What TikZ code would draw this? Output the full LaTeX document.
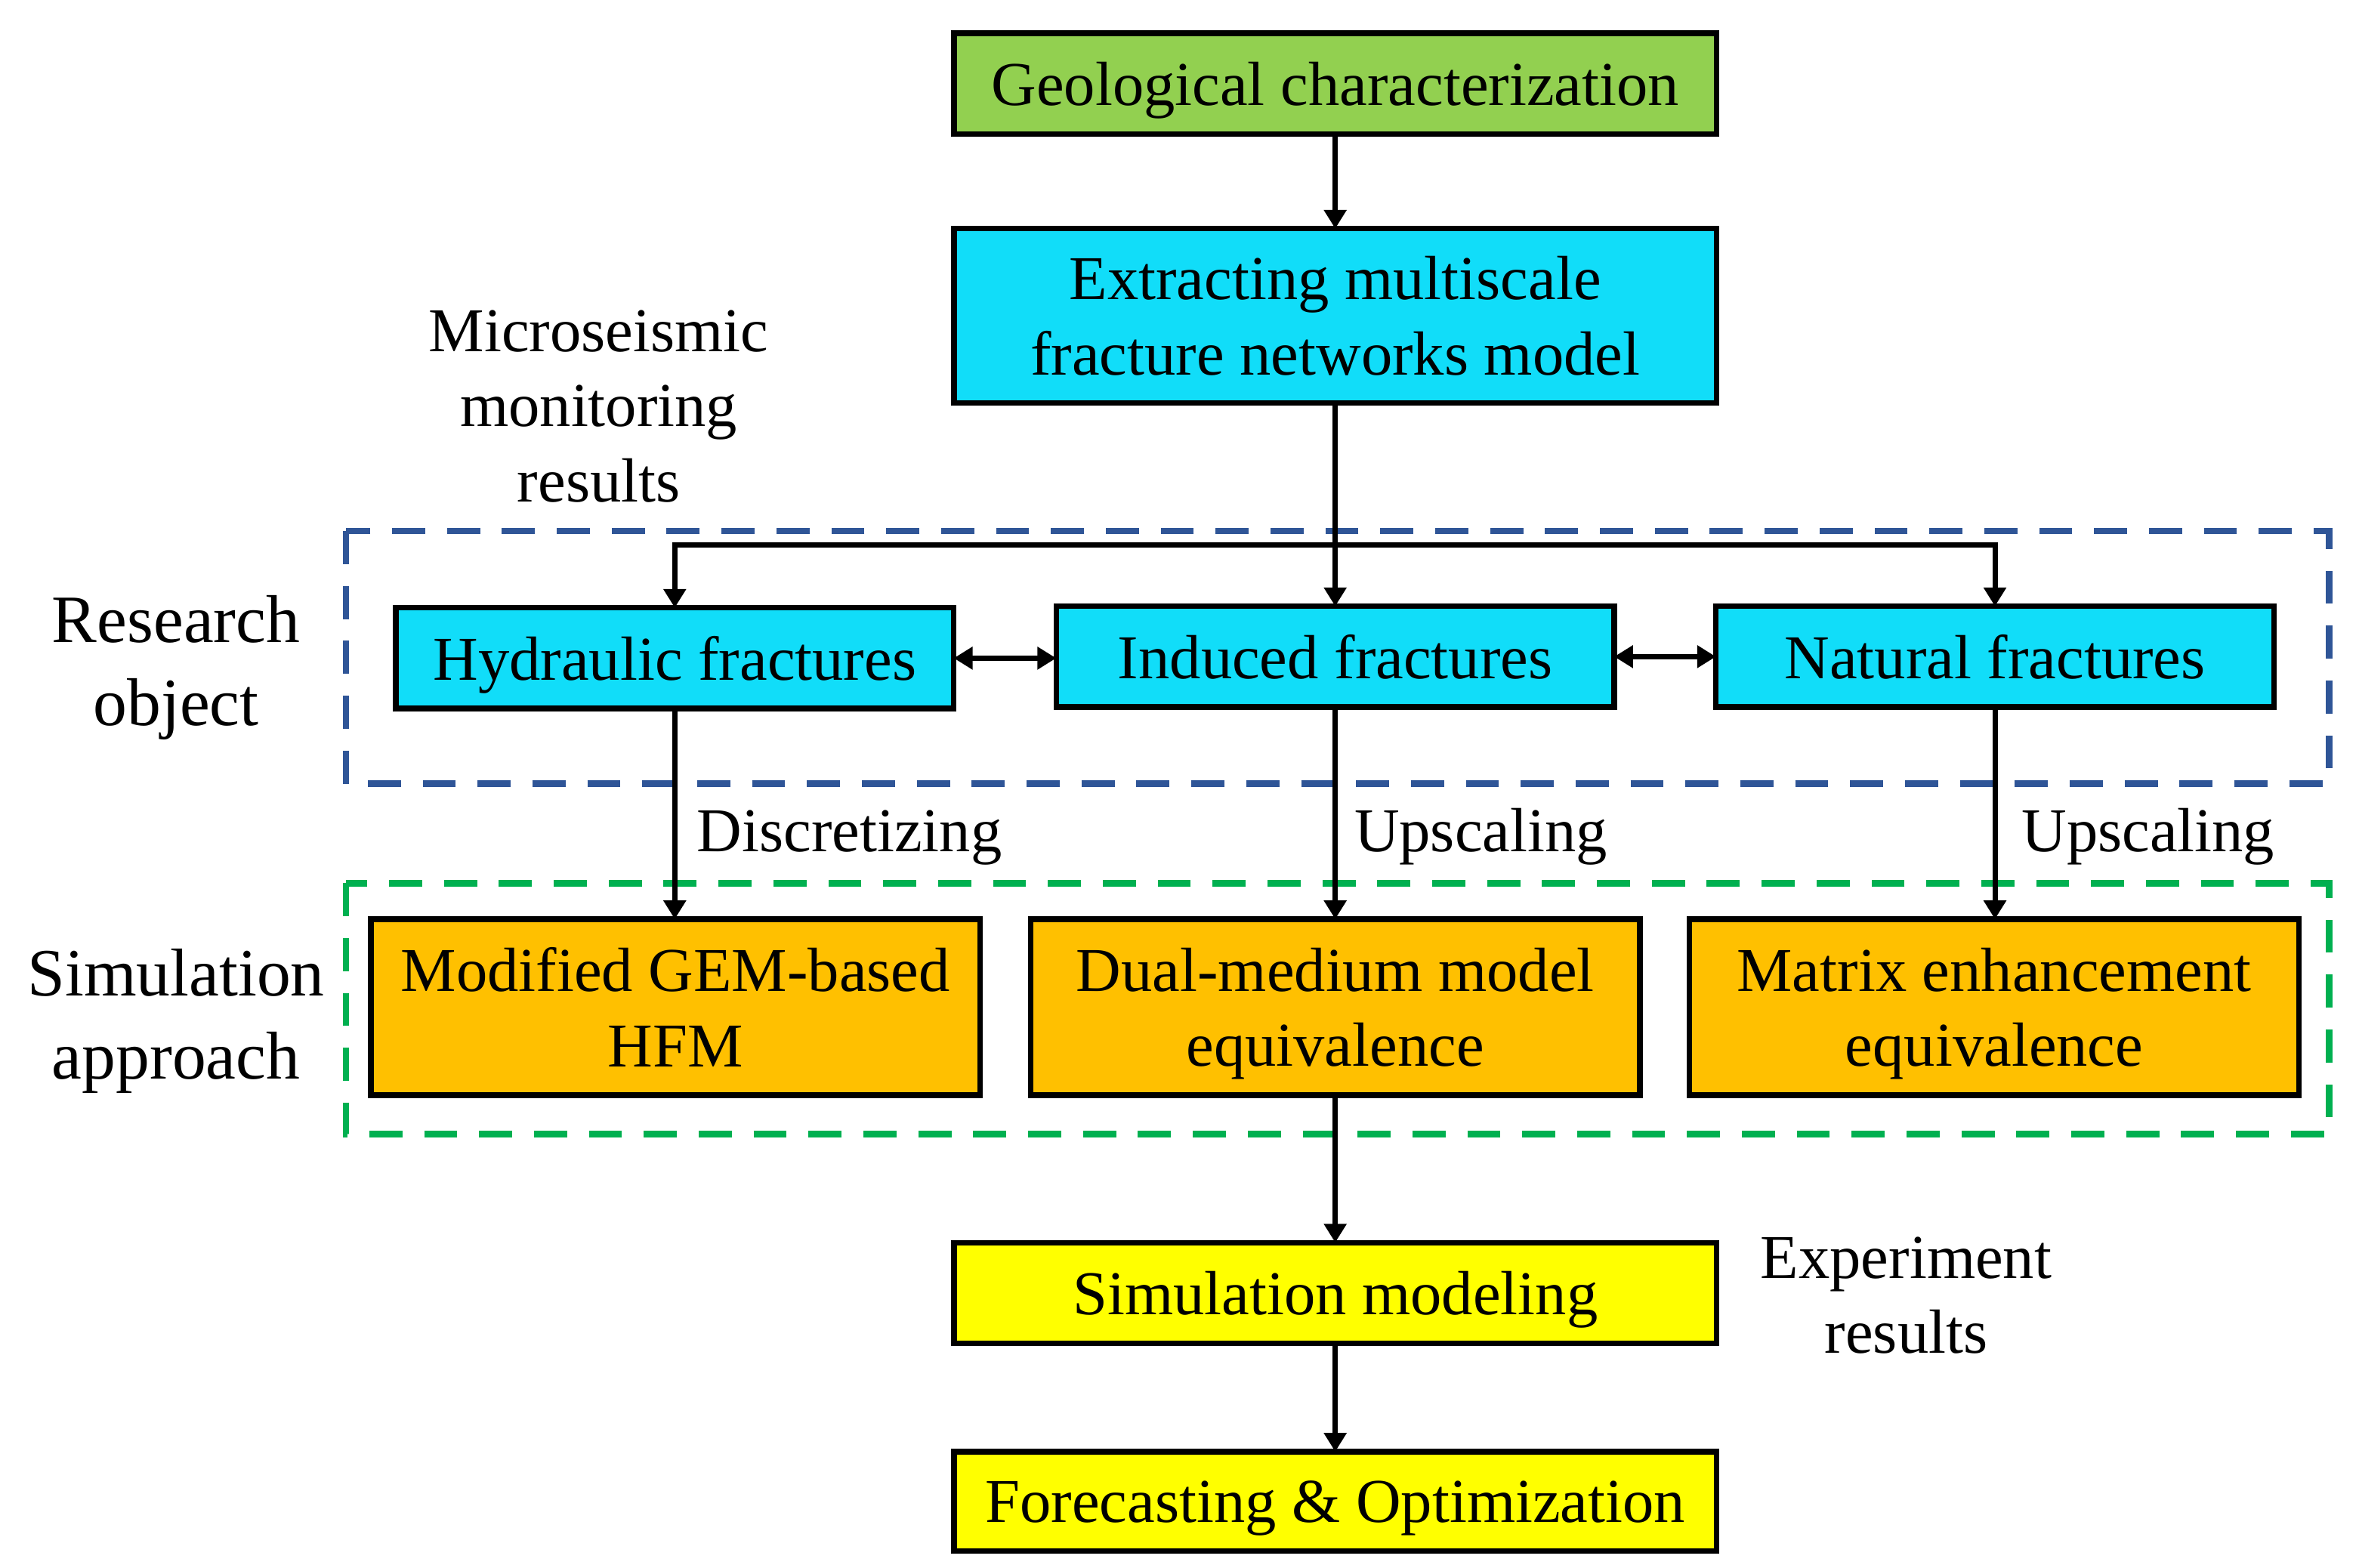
\documentclass[tikz,border=0pt]{standalone}
\usepackage{fontspec}
\setmainfont{Liberation Serif}
\usetikzlibrary{arrows.meta}
\definecolor{cgeo}{HTML}{92D050}
\definecolor{ccyan}{HTML}{11DDF9}
\definecolor{corange}{HTML}{FFC000}
\definecolor{cyel}{HTML}{FFFF00}
\definecolor{cblue}{HTML}{2F5597}
\definecolor{cgreen}{HTML}{00B050}
\newcommand{\nodesc}[1]{\raisebox{0pt}[\height][0pt]{#1}}
\begin{document}
\begin{tikzpicture}[x=0.02cm,y=-0.02cm,
  box/.style={draw=black, line width=2.1pt, inner sep=0pt, outer sep=0pt, align=center,
    font=\fontsize{23.6}{28.4}\selectfont},
  widebox/.style={box, minimum width=10.14cm},
  midbox/.style={box, minimum width=7.42cm, minimum height=1.34cm, fill=ccyan},
  simbox/.style={box, minimum width=8.1cm, minimum height=2.34cm, fill=corange},
  lbl/.style={inner sep=0pt, align=center, font=\fontsize{23.6}{28.4}\selectfont},
  biglbl/.style={inner sep=0pt, align=center, font=\fontsize{25.6}{31.5}\selectfont},
  conn/.style={line width=2pt, line join=miter},
  arr/.style={conn, -{Triangle[length=0.25cm,width=0.29cm]}},
  darr/.style={conn, {Triangle[length=0.25cm,width=0.29cm]}-{Triangle[length=0.25cm,width=0.29cm]}},
  dashbox/.style={line width=2.5pt, dash pattern=on 0.44cm off 0.29cm}
]
\useasboundingbox (0,0) rectangle (1568,1042);

% dashed group frames
\draw[dashbox, draw=cblue] (230,353) rectangle (1548,521);
\draw[dashbox, draw=cgreen] (230,587) rectangle (1548,754);

% boxes
\node[widebox, minimum height=1.34cm, fill=cgeo] (geo) at (887.5,55.5) {\nodesc{Geological characterization}};
\node[widebox, minimum height=2.32cm, fill=ccyan] (ext) at (887.5,210) {Extracting multiscale\\fracture networks model};
\node[midbox] (hyd) at (448.5,437.5) {\nodesc{Hydraulic fractures}};
\node[midbox] (ind) at (887.5,436.5) {Induced fractures};
\node[midbox] (nat) at (1326,436.5) {Natural fractures};
\node[simbox] (gem) at (449,669.5) {Modified GEM-based\\HFM};
\node[simbox] (dual) at (887.5,669.5) {Dual-medium model\\\nodesc{equivalence}};
\node[simbox] (mat) at (1325.5,669.5) {Matrix enhancement\\\nodesc{equivalence}};
\node[widebox, minimum height=1.34cm, fill=cyel] (sim) at (887.5,859.5) {\nodesc{Simulation modeling}};
\node[widebox, minimum height=1.32cm, fill=cyel] (fore) at (887.5,998) {\nodesc{Forecasting \& Optimization}};

% side labels
\node[lbl] (micro) at (398,270) {Microseismic\\monitoring\\results};
\node[biglbl] (resobj) at (117,439) {Research\\\nodesc{object}};
\node[biglbl] (simapp) at (117,674) {Simulation\\\nodesc{approach}};
\node[lbl] (expres) at (1267,861) {Experiment\\results};

% connectors
\coordinate (j) at (887.5,362);
\draw[arr] (geo.south) -- (ext.north);
\draw[conn] (ext.south) -- (j);
\draw[arr] (j) -- (ind.north);
\draw[arr] (j) -| (hyd.north);
\draw[arr] (j) -| (nat.north);
\draw[darr] (hyd.east) -- (ind.west |- hyd.east);
\draw[darr] (ind.east) -- (nat.west);
\draw[arr] (hyd.south) -- node[lbl, anchor=west, xshift=0.26cm, pos=0.58] (ldisc) {\nodesc{Discretizing}} (gem.north -| hyd.south);
\draw[arr] (ind.south) -- node[lbl, anchor=west, xshift=0.22cm, pos=0.58] (lup1) {\nodesc{Upscaling}} (dual.north -| ind.south);
\draw[arr] (nat.south) -- node[lbl, anchor=west, xshift=0.32cm, pos=0.58] (lup2) {\nodesc{Upscaling}} (mat.north -| nat.south);
\draw[arr] (dual.south) -- (sim.north);
\draw[arr] (sim.south) -- (fore.north);
\end{tikzpicture}
\end{document}
